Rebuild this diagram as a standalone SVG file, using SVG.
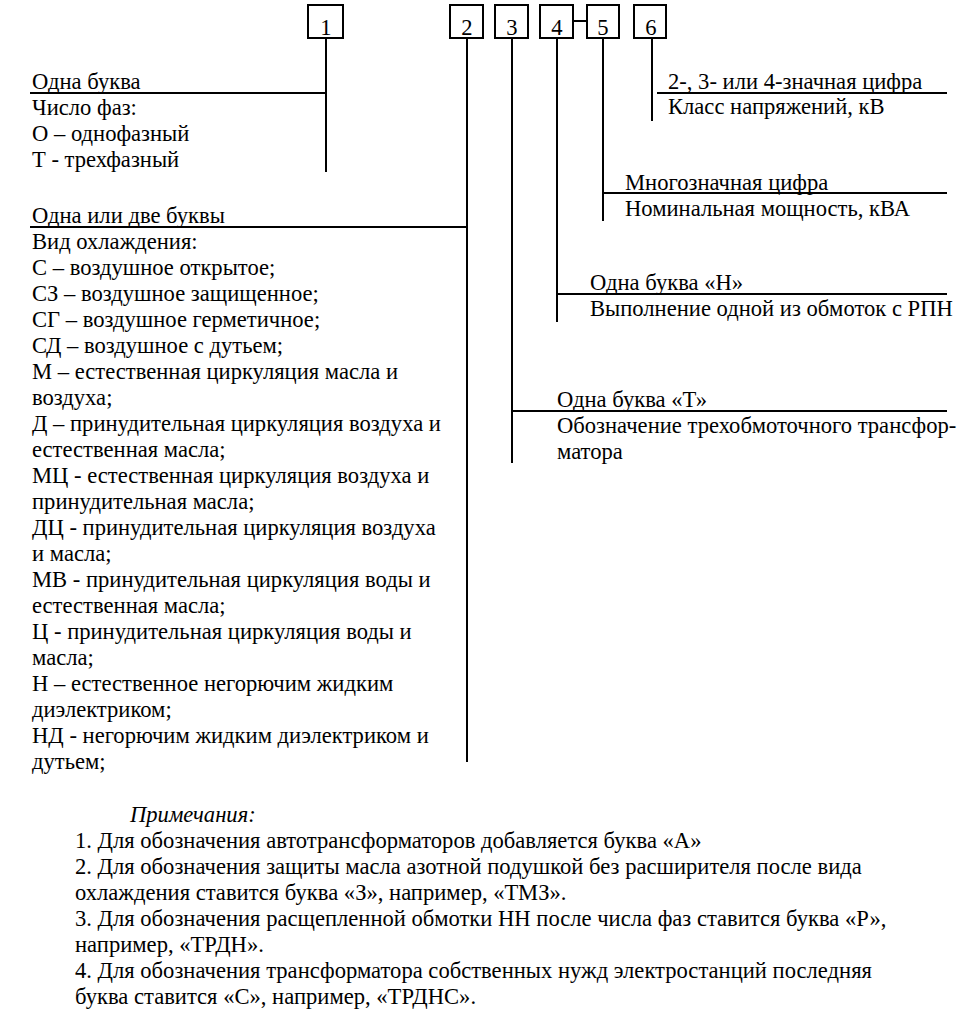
<svg xmlns="http://www.w3.org/2000/svg" width="972" height="1016" viewBox="0 0 972 1016">
<style>
text{font-family:"Liberation Serif","Times New Roman",serif;font-size:22.6px;fill:#000}
.box{fill:#fff;stroke:#000;stroke-width:2}
.ln{stroke:#000;stroke-width:2;fill:none}
.num{text-anchor:middle}
.it{font-style:italic}
</style>
<rect width="972" height="1016" fill="#fff"/>
<g id="connectors">
<line class="ln" x1="573" y1="21" x2="587" y2="21"/>
<line class="ln" x1="326" y1="38" x2="326" y2="172"/>
<line class="ln" x1="30" y1="93" x2="326" y2="93"/>
<line class="ln" x1="467" y1="38" x2="467" y2="762"/>
<line class="ln" x1="30" y1="227" x2="467" y2="227"/>
<line class="ln" x1="512" y1="38" x2="512" y2="463"/>
<line class="ln" x1="512" y1="411" x2="947" y2="411"/>
<line class="ln" x1="557" y1="38" x2="557" y2="322"/>
<line class="ln" x1="557" y1="294" x2="947" y2="294"/>
<line class="ln" x1="603" y1="38" x2="603" y2="221"/>
<line class="ln" x1="603" y1="193" x2="947" y2="193"/>
<line class="ln" x1="652" y1="38" x2="652" y2="121"/>
<line class="ln" x1="657" y1="93" x2="947" y2="93"/>
</g>
<g id="box1"><rect class="box" x="308" y="5" width="35" height="33"/><text class="num" x="326" y="35">1</text></g>
<g id="box2"><rect class="box" x="450" y="5" width="33" height="33"/><text class="num" x="467" y="35">2</text></g>
<g id="box3"><rect class="box" x="495" y="5" width="33" height="33"/><text class="num" x="512" y="35">3</text></g>
<g id="box4"><rect class="box" x="540" y="5" width="33" height="33"/><text class="num" x="557" y="35">4</text></g>
<g id="box5"><rect class="box" x="587" y="5" width="32" height="33"/><text class="num" x="603" y="35">5</text></g>
<g id="box6"><rect class="box" x="634" y="5" width="32" height="33"/><text class="num" x="651" y="35">6</text></g>
<g id="desc1">
<text x="32" y="89">Одна буква</text>
<text x="32" y="115">Число фаз:</text>
<text x="32" y="141">О – однофазный</text>
<text x="32" y="167">Т - трехфазный</text>
</g>
<g id="desc2">
<text x="32" y="223">Одна или две буквы</text>
<text x="32" y="249">Вид охлаждения:</text>
<text x="32" y="275">С – воздушное открытое;</text>
<text x="32" y="301">СЗ – воздушное защищенное;</text>
<text x="32" y="327">СГ – воздушное герметичное;</text>
<text x="32" y="353">СД – воздушное с дутьем;</text>
<text x="32" y="379">М – естественная циркуляция масла и</text>
<text x="32" y="405">воздуха;</text>
<text x="32" y="431">Д – принудительная циркуляция воздуха и</text>
<text x="32" y="457">естественная масла;</text>
<text x="32" y="483">МЦ - естественная циркуляция воздуха и</text>
<text x="32" y="509">принудительная масла;</text>
<text x="32" y="535">ДЦ - принудительная циркуляция воздуха</text>
<text x="32" y="561">и масла;</text>
<text x="32" y="587">МВ - принудительная циркуляция воды и</text>
<text x="32" y="613">естественная масла;</text>
<text x="32" y="639">Ц - принудительная циркуляция воды и</text>
<text x="32" y="665">масла;</text>
<text x="32" y="691">Н – естественное негорючим жидким</text>
<text x="32" y="717">диэлектриком;</text>
<text x="32" y="743">НД - негорючим жидким диэлектриком и</text>
<text x="32" y="769">дутьем;</text>
</g>
<g id="desc6">
<text x="668" y="89">2-, 3- или 4-значная цифра</text>
<text x="668" y="114">Класс напряжений, кВ</text>
</g>
<g id="desc5">
<text x="625" y="190">Многозначная цифра</text>
<text x="625" y="216">Номинальная мощность, кВА</text>
</g>
<g id="desc4">
<text x="590" y="290">Одна буква «Н»</text>
<text x="590" y="316">Выполнение одной из обмоток с РПН</text>
</g>
<g id="desc3">
<text x="557" y="407">Одна буква «Т»</text>
<text x="557" y="433">Обозначение трехобмоточного трансфор-</text>
<text x="557" y="459">матора</text>
</g>
<g id="notes">
<text class="it" x="130" y="822">Примечания:</text>
<text x="75" y="848">1. Для обозначения автотрансформаторов добавляется буква «А»</text>
<text x="75" y="874">2. Для обозначения защиты масла азотной подушкой без расширителя после вида</text>
<text x="75" y="900">охлаждения ставится буква «З», например, «ТМЗ».</text>
<text x="75" y="926">3. Для обозначения расщепленной обмотки НН после числа фаз ставится буква «Р»,</text>
<text x="75" y="952">например, «ТРДН».</text>
<text x="75" y="978">4. Для обозначения трансформатора собственных нужд электростанций последняя</text>
<text x="75" y="1004">буква ставится «С», например, «ТРДНС».</text>
</g>
</svg>
